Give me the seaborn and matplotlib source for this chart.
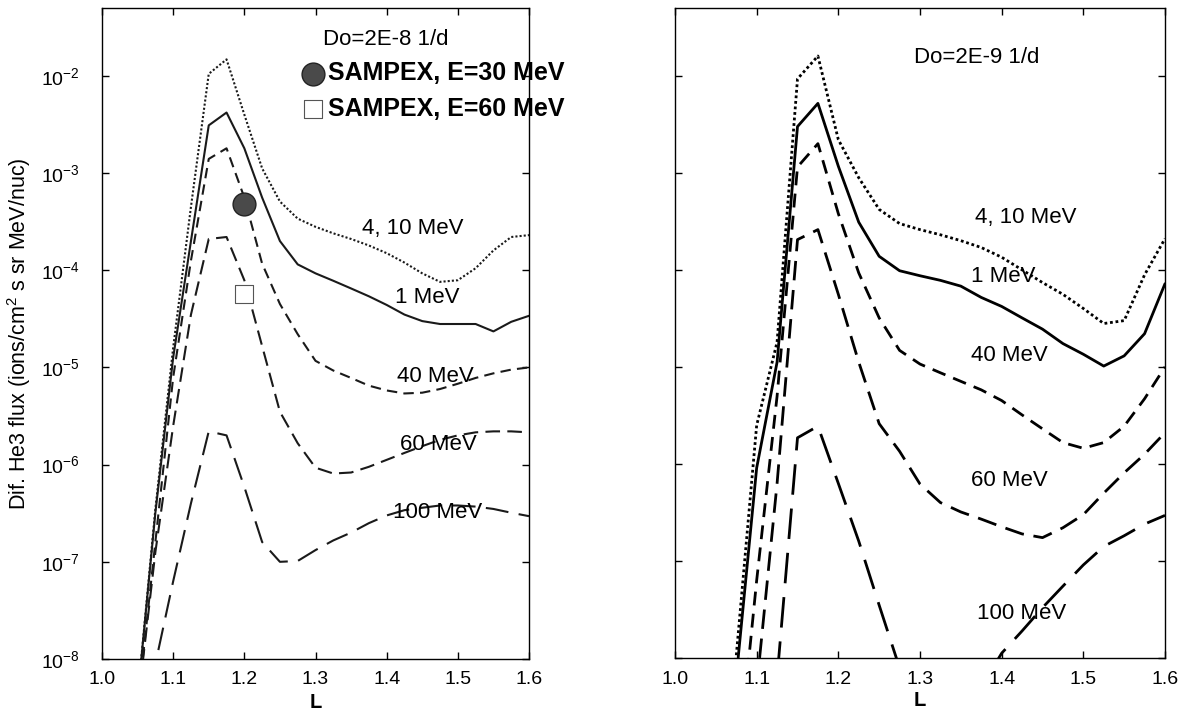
import numpy as np
import pandas as pd
import matplotlib
matplotlib.use('Agg')
import matplotlib.pyplot as plt
import seaborn as sns
from matplotlib.ticker import NullLocator, FixedLocator, LogFormatterSciNotation

# L grid shared by every model curve
L = [1.05, 1.075, 1.1, 1.125, 1.15, 1.175, 1.2, 1.225, 1.25, 1.275, 1.3, 1.325,
     1.35, 1.375, 1.4, 1.425, 1.45, 1.475, 1.5, 1.525, 1.55, 1.575, 1.6]

# Do = 2E-8 1/d (left panel)
left_4_10 = [4.0e-9, 3.5e-7, 1.6e-5, 4.5e-4, 1.05e-2, 1.48e-2, 4.0e-3, 1.12e-3, 5.1e-4, 3.4e-4, 2.8e-4, 2.4e-4,
             2.1e-4, 1.8e-4, 1.5e-4, 1.2e-4, 9.3e-5, 7.6e-5, 7.9e-5, 1.05e-4, 1.6e-4, 2.2e-4, 2.3e-4]
left_1 = [4.0e-9, 3.2e-7, 1.26e-5, 2.0e-4, 3.1e-3, 4.2e-3, 1.8e-3, 5.6e-4, 2.0e-4, 1.15e-4, 9.3e-5, 7.8e-5,
          6.5e-5, 5.4e-5, 4.4e-5, 3.5e-5, 3.0e-5, 2.8e-5, 2.8e-5, 2.8e-5, 2.35e-5, 2.95e-5, 3.4e-5]
left_40 = [3.2e-9, 1.6e-7, 7.9e-6, 1.26e-4, 1.4e-3, 1.8e-3, 5.6e-4, 1.17e-4, 4.5e-5, 2.2e-5, 1.17e-5, 9.3e-6,
           7.8e-6, 6.5e-6, 5.8e-6, 5.4e-6, 5.5e-6, 6.0e-6, 6.8e-6, 7.8e-6, 8.7e-6, 9.5e-6, 1.0e-5]
left_60 = [3.2e-9, 1.26e-7, 2.5e-6, 3.5e-5, 2.1e-4, 2.2e-4, 7.9e-5, 1.66e-5, 3.5e-6, 1.66e-6, 9.3e-7, 8.1e-7,
           8.3e-7, 9.5e-7, 1.12e-6, 1.32e-6, 1.55e-6, 1.8e-6, 2.0e-6, 2.15e-6, 2.2e-6, 2.2e-6, 2.15e-6]
left_100 = [3.2e-10, 8.9e-9, 6.3e-8, 4.0e-7, 2.2e-6, 2.0e-6, 5.9e-7, 1.6e-7, 1.0e-7, 1.02e-7, 1.32e-7, 1.66e-7,
            2.0e-7, 2.5e-7, 3.0e-7, 3.4e-7, 3.6e-7, 3.8e-7, 3.8e-7, 3.7e-7, 3.5e-7, 3.2e-7, 2.95e-7]

# Do = 2E-9 1/d (right panel)
right_4_10 = [1e-10, 1.05e-8, 2.5e-6, 1.8e-5, 9.3e-3, 1.6e-2, 2.2e-3, 8.9e-4, 4.2e-4, 3.0e-4, 2.6e-4, 2.3e-4,
              2.0e-4, 1.7e-4, 1.35e-4, 1.0e-4, 7.4e-5, 5.6e-5, 4.0e-5, 2.8e-5, 3.0e-5, 8.9e-5, 2.1e-4]
right_1 = [1e-10, 6.3e-9, 9.1e-7, 1.12e-5, 3.0e-3, 5.2e-3, 1.17e-3, 3.1e-4, 1.38e-4, 9.8e-5, 8.7e-5, 7.8e-5,
           6.8e-5, 5.2e-5, 4.2e-5, 3.2e-5, 2.45e-5, 1.74e-5, 1.35e-5, 1.02e-5, 1.3e-5, 2.2e-5, 7.2e-5]
right_40 = [1e-12, 5e-10, 6.3e-8, 5.0e-6, 1.15e-3, 2.0e-3, 3.8e-4, 9.3e-5, 3.2e-5, 1.48e-5, 1.07e-5, 8.7e-6,
            7.1e-6, 5.8e-6, 4.5e-6, 3.2e-6, 2.3e-6, 1.66e-6, 1.45e-6, 1.66e-6, 2.45e-6, 4.7e-6, 1.0e-5]
right_60 = [1e-13, 1e-11, 5e-9, 6.3e-7, 2.05e-4, 2.6e-4, 5.6e-5, 1.12e-5, 2.6e-6, 1.35e-6, 6.2e-7, 4.0e-7,
            3.2e-7, 2.7e-7, 2.25e-7, 1.9e-7, 1.74e-7, 2.2e-7, 3.0e-7, 5.0e-7, 8.1e-7, 1.26e-6, 2.1e-6]
right_100 = [1e-14, 1e-12, 1e-10, 6.3e-9, 1.86e-6, 2.45e-6, 6.3e-7, 1.6e-7, 3.5e-8, 7.9e-9, 1.6e-9, 5e-10,
             8e-10, 5e-9, 1.12e-8, 1.9e-8, 3.3e-8, 5.5e-8, 9.1e-8, 1.41e-7, 1.82e-7, 2.4e-7, 2.95e-7]

energies = ['4, 10 MeV', '1 MeV', '40 MeV', '60 MeV', '100 MeV']

# axis ticks
x_ticks = [1.0, 1.1, 1.2, 1.3, 1.4, 1.5, 1.6]
x_tick_labels = ['1.0', '1.1', '1.2', '1.3', '1.4', '1.5', '1.6']
y_ticks = [1e-8, 1e-7, 1e-6, 1e-5, 1e-4, 1e-3, 1e-2]

# SAMPEX measurements (left panel)
sampex_L = [1.2, 1.2]
sampex_flux = [4.8e-4, 5.7e-5]
sampex_labels = ['SAMPEX, E=30 MeV', 'SAMPEX, E=60 MeV']

# curve label positions (L, flux)
left_label_pos = [(1.437, 2.7e-4), (1.457, 5.2e-5), (1.468, 8.1e-6), (1.472, 1.6e-6), (1.472, 3.2e-7)]
right_label_pos = [(1.429, 3.5e-4), (1.402, 8.5e-5), (1.410, 1.3e-5), (1.410, 6.8e-7), (1.425, 2.9e-8)]

sns.set_style('ticks')
plt.rcParams['font.family'] = ['Liberation Sans', 'DejaVu Sans']
plt.rcParams['mathtext.fontset'] = 'custom'
plt.rcParams['mathtext.rm'] = 'Liberation Sans'
plt.rcParams['mathtext.it'] = 'Liberation Sans:italic'
plt.rcParams['mathtext.bf'] = 'Liberation Sans:bold'
plt.rcParams['axes.unicode_minus'] = False
plt.rcParams['text.color'] = 'black'
plt.rcParams['axes.labelcolor'] = 'black'

dash_map = {'4, 10 MeV': (1, 1), '1 MeV': '', '40 MeV': (5, 3), '60 MeV': (7, 3.5), '100 MeV': (11, 5)}


def make_df(curves):
    rows = []
    for name, vals in zip(energies, curves):
        for x, v in zip(L, vals):
            rows.append({'L': x, 'flux': v, 'energy': name})
    return pd.DataFrame(rows)


fig = plt.figure(figsize=(11.85, 7.15), dpi=100)
ax1 = fig.add_axes([102 / 1185, 56 / 715, 427 / 1185, 651 / 715])
ax2 = fig.add_axes([675 / 1185, 57 / 715, 490 / 1185, 650 / 715])

panels = [
    (ax1, make_df([left_4_10, left_1, left_40, left_60, left_100]), '#1a1a1a', 1.5, left_label_pos),
    (ax2, make_df([right_4_10, right_1, right_40, right_60, right_100]), 'black', 2.0, right_label_pos),
]

for ax, df, col, lw, label_pos in panels:
    sns.lineplot(data=df, x='L', y='flux', style='energy', style_order=energies, dashes=dash_map,
                 color=col, linewidth=lw, estimator=None, legend=False, ax=ax)
    ax.set_yscale('log')
    ax.set_xlim(1.0, 1.6)
    ax.set_ylim(1e-8, 5e-2)
    ax.xaxis.set_major_locator(FixedLocator(x_ticks))
    ax.set_xticklabels(x_tick_labels)
    ax.yaxis.set_major_locator(FixedLocator(y_ticks))
    ax.yaxis.set_major_formatter(LogFormatterSciNotation())
    ax.yaxis.set_minor_locator(NullLocator())
    ax.tick_params(axis='both', which='major', direction='in', top=True, right=True,
                   length=5, width=1, labelsize=14, colors='black')
    ax.tick_params(axis='x', pad=9)
    ax.tick_params(axis='y', pad=16)
    for sp in ax.spines.values():
        sp.set_visible(True)
        sp.set_linewidth(1.0)
        sp.set_color('black')
    ax.set_xlabel('L', fontsize=14.5, fontweight='bold')
    ax.xaxis.set_label_coords(0.5, -0.0515)
    ax.set_ylabel('')
    for name, (lx, ly) in zip(energies, label_pos):
        ax.text(lx, ly, name, fontsize=16, ha='center', va='center', color='black')

ax2.tick_params(axis='y', labelleft=False)

ax1.set_ylabel('Dif. He3 flux (ions/cm$^2$ s sr MeV/nuc)', fontsize=15.5)
ax1.yaxis.set_label_coords(-0.162, 0.5)

# SAMPEX data points
sns.scatterplot(x=[sampex_L[0]], y=[sampex_flux[0]], marker='o', s=270, color='#4a4a4a',
                edgecolor='#222222', linewidth=1.0, label=sampex_labels[0], ax=ax1, zorder=5)
sns.scatterplot(x=[sampex_L[1]], y=[sampex_flux[1]], marker='s', s=170, facecolor='white',
                edgecolor='#555555', linewidth=0.8, label=sampex_labels[1], ax=ax1, zorder=5)

ax1.legend(loc='upper left', bbox_to_anchor=(0.466, 0.918), frameon=False,
           prop={'size': 18, 'weight': 'bold'}, handlelength=0.95, handletextpad=0.12,
           borderpad=0, borderaxespad=0, labelspacing=0.45)

ax1.text(1.399, 10 ** -1.63, 'Do=2E-8 1/d', fontsize=16, ha='center', va='center')
ax2.text(1.369, 10 ** -1.81, 'Do=2E-9 1/d', fontsize=16, ha='center', va='center')

fig.savefig('out.png', dpi=100, facecolor='white')
